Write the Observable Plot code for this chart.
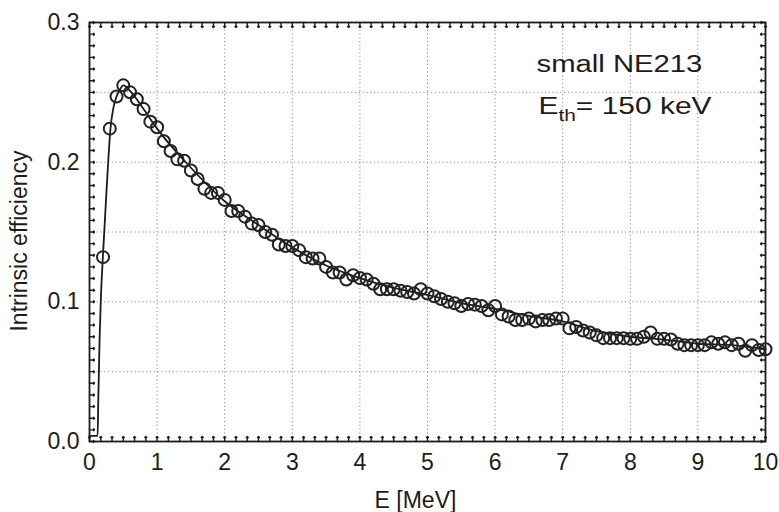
<!DOCTYPE html>
<html>
<head>
<meta charset="utf-8">
<script src="https://cdn.jsdelivr.net/npm/d3@7"></script>
<script src="https://cdn.jsdelivr.net/npm/@observablehq/plot@0.6"></script>
<style>
  body { margin: 0; background: #fff; }
</style>
</head>
<body>
<div id="chart"></div>
<script>
// Measured intrinsic efficiency of the small NE213 detector (open circles)
const energies = [
  0.2, 0.3, 0.4, 0.5, 0.6, 0.7, 0.8, 0.9, 1.0,
  1.1, 1.2, 1.3, 1.4, 1.5, 1.6, 1.7, 1.8, 1.9, 2.0,
  2.1, 2.2, 2.3, 2.4, 2.5, 2.6, 2.7, 2.8, 2.9, 3.0,
  3.1, 3.2, 3.3, 3.4, 3.5, 3.6, 3.7, 3.8, 3.9, 4.0,
  4.1, 4.2, 4.3, 4.4, 4.5, 4.6, 4.7, 4.8, 4.9, 5.0,
  5.1, 5.2, 5.3, 5.4, 5.5, 5.6, 5.7, 5.8, 5.9, 6.0,
  6.1, 6.2, 6.3, 6.4, 6.5, 6.6, 6.7, 6.8, 6.9, 7.0,
  7.1, 7.2, 7.3, 7.4, 7.5, 7.6, 7.7, 7.8, 7.9, 8.0,
  8.1, 8.2, 8.3, 8.4, 8.5, 8.6, 8.7, 8.8, 8.9, 9.0,
  9.1, 9.2, 9.3, 9.4, 9.5, 9.6, 9.7, 9.8, 9.9, 10.0
];
const efficiency = [
  0.132, 0.224, 0.247, 0.255, 0.250, 0.245, 0.238, 0.229, 0.225,
  0.215, 0.208, 0.202, 0.201, 0.194, 0.188, 0.181, 0.178, 0.178, 0.173,
  0.165, 0.165, 0.161, 0.156, 0.155, 0.150, 0.148, 0.141, 0.140, 0.140,
  0.137, 0.132, 0.131, 0.131, 0.125, 0.121, 0.121, 0.116, 0.119, 0.117,
  0.116, 0.113, 0.109, 0.109, 0.109, 0.108, 0.107, 0.106, 0.109, 0.106,
  0.104, 0.102, 0.100, 0.099, 0.097, 0.0985, 0.098, 0.097, 0.094, 0.097,
  0.091, 0.0895, 0.087, 0.087, 0.088, 0.086, 0.087, 0.087, 0.088, 0.088,
  0.081, 0.082, 0.0795, 0.078, 0.076, 0.074, 0.074, 0.074, 0.074, 0.0735,
  0.0735, 0.075, 0.078, 0.0735, 0.0735, 0.073, 0.070, 0.069, 0.069, 0.069,
  0.069, 0.071, 0.070, 0.071, 0.069, 0.070, 0.065, 0.069, 0.0655, 0.066
];

// Calculated response (solid line), with the rise just above threshold
const modelEnergies = [
  0, 0.12, 0.13, 0.15, 0.17, 0.19, 0.2, 0.25, 0.28, 0.31, 0.35, 0.4, 0.45, 0.5,
  0.6, 0.8, 1.0, 1.5, 2.0, 2.5, 3.0, 3.5, 4.0, 4.5, 5.0, 5.5, 6.0, 6.5, 7.0,
  7.5, 8.0, 8.5, 9.0, 9.5, 10.0
];
const modelEfficiency = [
  0.004, 0.004, 0.03, 0.075, 0.105, 0.125, 0.134, 0.178, 0.203, 0.224, 0.238, 0.247, 0.252, 0.255,
  0.251, 0.238, 0.224, 0.196, 0.172, 0.155, 0.139, 0.126, 0.117, 0.110, 0.105, 0.099, 0.095, 0.090, 0.086,
  0.079, 0.075, 0.073, 0.070, 0.069, 0.066
];

// Axis ticks, labels and grid positions
const xTickValues = [0, 1, 2, 3, 4, 5, 6, 7, 8, 9, 10];
const yTickValues = [0, 0.1, 0.2, 0.3];
const xGridValues = [1, 2, 3, 4, 5, 6, 7, 8, 9];
const yGridValues = [0.05, 0.1, 0.15, 0.2, 0.25];
const xMinorTicks = d3.range(0, 61).map(k => k / 6);
const yMinorTicks = d3.range(0, 37).map(k => k * 0.05 / 6);

const xTitle = "E [MeV]";
const yTitle = "Intrinsic efficiency";
const detectorNote = "small NE213";
const thresholdNote = ["E", "th", "= 150 keV"];

const points = energies.map((e, i) => ({e, v: efficiency[i]}));
const model = modelEnergies.map((e, i) => ({e, v: modelEfficiency[i]}));

const ink = "#1c1c1c";
const gridStyle = {stroke: "#8c8c8c", strokeOpacity: 1, strokeWidth: 1, strokeDasharray: "1.2,2.6"};
// inward tick marks on all four sides of the frame, drawn as short vectors
const tickStyle = {length: 5, anchor: "start", stroke: ink, strokeWidth: 1.4};
const xTicks = (side, rotate) => Plot.vector(xMinorTicks, {x: d => d, frameAnchor: side, rotate, ...tickStyle});
const yTicks = (side, rotate) => Plot.vector(yMinorTicks, {y: d => d, frameAnchor: side, rotate, ...tickStyle});

const plot = Plot.plot({
  width: 779,
  height: 512,
  marginLeft: 89,
  marginRight: 14,
  marginTop: 22,
  marginBottom: 71,
  style: {fontFamily: "'Liberation Sans', Arial, sans-serif", fontSize: "23px", color: ink, background: "#fff"},
  x: {domain: [0, 10], label: null},
  y: {domain: [0, 0.3], label: null},
  marks: [
    Plot.gridX(xGridValues, gridStyle),
    Plot.gridY(yGridValues, gridStyle),
    xTicks("bottom", 0),
    xTicks("top", 180),
    yTicks("left", 90),
    yTicks("right", 270),
    Plot.axisX(xTickValues, {anchor: "bottom", tickSize: 0, tickPadding: 12, label: null, fill: ink}),
    Plot.axisY(yTickValues, {anchor: "left", tickSize: 0, tickPadding: 10, tickFormat: d3.format(".1f"), label: null, fill: ink}),
    Plot.frame({stroke: ink, strokeWidth: 1.8}),
    Plot.line(model, {x: "e", y: "v", curve: "monotone-x", stroke: ink, strokeWidth: 1.8}),
    Plot.dot(points, {x: "e", y: "v", r: 6, stroke: "#222", strokeWidth: 2, fill: "none"}),
    Plot.text([xTitle], {frameAnchor: "bottom", textAnchor: "middle", lineAnchor: "bottom", dx: -12, dy: 66, fill: ink}),
    Plot.text([yTitle], {frameAnchor: "left", textAnchor: "middle", rotate: -90, dx: -70, dy: 9, fill: ink}),
    Plot.text([detectorNote], {frameAnchor: "top-left", textAnchor: "start", lineAnchor: "bottom", dx: 447, dy: 49, fill: ink}),
    Plot.text([thresholdNote.join("")], {frameAnchor: "top-left", textAnchor: "start", lineAnchor: "bottom", dx: 449, dy: 91, fill: ink})
  ]
});

document.getElementById("chart").appendChild(plot);

// Subscript on the threshold label, and the wide lettering of both notes
const svg = d3.select(plot.tagName.toLowerCase() === "svg" ? plot : plot.querySelector("svg"));
svg.selectAll("text").each(function () {
  const el = d3.select(this);
  const content = this.textContent;
  let target = null;
  if (content === thresholdNote.join("")) {
    el.text(null);
    el.append("tspan").text(thresholdNote[0]);
    el.append("tspan").attr("font-size", 16).attr("dy", 7).text(thresholdNote[1]);
    el.append("tspan").attr("dy", -7).text(thresholdNote[2]);
    target = 174;
  } else if (content === detectorNote) {
    target = 166;
  }
  if (target) {
    const box = this.getBBox();
    const s = target / box.width;
    const t = el.attr("transform") || "";
    el.attr("transform", `${t} translate(${box.x},0) scale(${s},1) translate(${-box.x},0)`);
  }
});
</script>
</body>
</html>
